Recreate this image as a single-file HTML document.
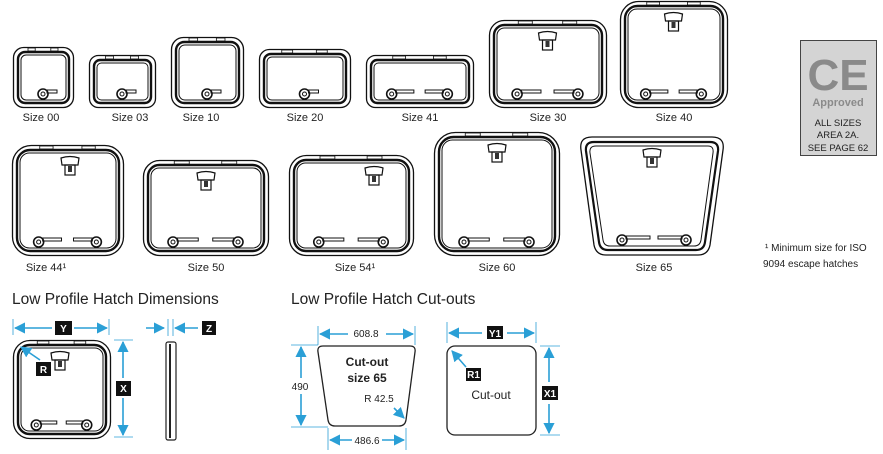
<!DOCTYPE html>
<html><head><meta charset="utf-8"><style>
html,body{margin:0;padding:0;background:#fff;width:883px;height:454px;overflow:hidden}
svg text{font-family:"Liberation Sans",sans-serif}
</style></head><body>
<svg id="s" width="883" height="454" viewBox="0 0 883 454" xmlns="http://www.w3.org/2000/svg">
<defs>
<marker id="a" viewBox="0 0 10 10" refX="9" refY="5" markerWidth="7" markerHeight="7" orient="auto-start-reverse"><path d="M0,0 L10,5 L0,10 z" fill="#2a9fd6"/></marker>
</defs>
<g id="h"></g>
<g font-size="11" fill="#222" text-anchor="middle">
<text x="41" y="121">Size 00</text><text x="130" y="121">Size 03</text><text x="201" y="121">Size 10</text><text x="305" y="121">Size 20</text><text x="420" y="121">Size 41</text><text x="548" y="121">Size 30</text><text x="674" y="121">Size 40</text>
<text x="46" y="271">Size 44¹</text><text x="206" y="271">Size 50</text><text x="355" y="271">Size 54¹</text><text x="497" y="271">Size 60</text><text x="654" y="271">Size 65</text>
</g>
<rect x="800.5" y="40.5" width="76" height="115" fill="#d4d4d4" stroke="#444"/>
<text x="838" y="90" font-size="44" font-weight="bold" fill="#8a8a8a" text-anchor="middle">CE</text>
<text x="838" y="106" font-size="11" font-weight="bold" fill="#8a8a8a" text-anchor="middle">Approved</text>
<g font-size="9.5" fill="#222" text-anchor="middle"><text x="838" y="126">ALL SIZES</text><text x="838" y="138">AREA 2A.</text><text x="838" y="151">SEE PAGE 62</text></g>
<g font-size="10" fill="#222"><text x="765" y="251">¹ Minimum size for ISO</text><text x="763" y="267">9094 escape hatches</text></g>
<g font-size="15.5" fill="#222"><text x="12" y="304">Low Profile Hatch Dimensions</text><text x="291" y="304">Low Profile Hatch Cut-outs</text></g>
<g stroke="#2a9fd6" stroke-width="1.6" fill="none">
<line x1="13" y1="319" x2="13" y2="335" stroke-width="0.8"/><line x1="109" y1="319" x2="109" y2="335" stroke-width="0.8"/>
<line x1="15" y1="328" x2="52" y2="328" marker-start="url(#a)"/><line x1="74" y1="328" x2="107" y2="328" marker-end="url(#a)"/>
<line x1="114" y1="340" x2="133" y2="340" stroke-width="0.8"/><line x1="114" y1="437" x2="133" y2="437" stroke-width="0.8"/>
<line x1="123" y1="342" x2="123" y2="378" marker-start="url(#a)"/><line x1="123" y1="398" x2="123" y2="435" marker-end="url(#a)"/>
<line x1="40" y1="360" x2="21" y2="347" marker-end="url(#a)"/>
<line x1="146" y1="328" x2="164" y2="328" marker-end="url(#a)"/><line x1="198" y1="328" x2="175" y2="328" marker-end="url(#a)"/>
<line x1="168" y1="319" x2="168" y2="336" stroke-width="0.8"/><line x1="173" y1="319" x2="173" y2="336" stroke-width="0.8"/>
<line x1="318" y1="326" x2="318" y2="345" stroke-width="0.8"/><line x1="415" y1="326" x2="415" y2="345" stroke-width="0.8"/>
<line x1="320" y1="334" x2="348" y2="334" marker-start="url(#a)"/><line x1="386" y1="334" x2="413" y2="334" marker-end="url(#a)"/>
<line x1="291" y1="345" x2="318" y2="345" stroke-width="0.8"/><line x1="291" y1="427" x2="328" y2="427" stroke-width="0.8"/>
<line x1="301" y1="347" x2="301" y2="378" marker-start="url(#a)"/><line x1="301" y1="394" x2="301" y2="425" marker-end="url(#a)"/>
<line x1="328" y1="428" x2="328" y2="450" stroke-width="0.8"/><line x1="406" y1="428" x2="406" y2="450" stroke-width="0.8"/>
<line x1="330" y1="440" x2="352" y2="440" marker-start="url(#a)"/><line x1="382" y1="440" x2="404" y2="440" marker-end="url(#a)"/>
<line x1="394" y1="408" x2="404" y2="418" marker-end="url(#a)"/>
<line x1="447" y1="322" x2="447" y2="343" stroke-width="0.8"/><line x1="536" y1="322" x2="536" y2="343" stroke-width="0.8"/>
<line x1="449" y1="333" x2="482" y2="333" marker-start="url(#a)"/><line x1="507" y1="333" x2="534" y2="333" marker-end="url(#a)"/>
<line x1="540" y1="346" x2="560" y2="346" stroke-width="0.8"/><line x1="540" y1="435" x2="560" y2="435" stroke-width="0.8"/>
<line x1="549" y1="348" x2="549" y2="382" marker-start="url(#a)"/><line x1="549" y1="404" x2="549" y2="433" marker-end="url(#a)"/>
<line x1="466" y1="367" x2="452" y2="351" marker-end="url(#a)"/>
</g>
<g fill="#111"><rect x="55" y="321" width="17" height="14"/><rect x="116" y="381" width="15" height="15"/><rect x="36" y="362" width="15" height="14"/><rect x="202" y="321" width="14" height="14"/><rect x="487" y="326" width="16" height="13"/><rect x="542" y="386" width="16" height="14"/><rect x="466" y="368" width="15" height="13"/></g>
<g fill="#fff" font-size="10" font-weight="bold" text-anchor="middle"><text x="63.5" y="332">Y</text><text x="123.5" y="392">X</text><text x="43.5" y="373">R</text><text x="209" y="332">Z</text><text x="495" y="337">Y1</text><text x="550" y="397">X1</text><text x="473.5" y="378">R1</text></g>
<rect x="166" y="342" width="10" height="98" rx="2" fill="none" stroke="#222" stroke-width="1.2"/><line x1="170" y1="344" x2="170" y2="438" stroke="#222" stroke-width="2"/>
<path d="M323,346 L410,346 Q416,346 415,352 L406,420 Q405,426 399,426 L335,426 Q329,426 328,420 L318,352 Q317,346 323,346 z" fill="none" stroke="#222" stroke-width="1.3"/>
<rect x="447" y="346" width="89" height="89" rx="8" fill="none" stroke="#222" stroke-width="1.3"/>
<g font-size="10" fill="#222" text-anchor="middle"><text x="366" y="337">608.8</text><text x="300" y="390">490</text><text x="367" y="444">486.6</text><text x="379" y="402">R 42.5</text></g>
<g font-size="12" font-weight="bold" fill="#222" text-anchor="middle"><text x="367" y="366">Cut-out</text><text x="367" y="382">size 65</text><text x="491" y="399" font-weight="normal">Cut-out</text></g>
</svg>
<script>
var g=document.getElementById('h'),N='http://www.w3.org/2000/svg';
function el(t,a){var e=document.createElementNS(N,t);for(var k in a)e.setAttribute(k,a[k]);g.appendChild(e);return e;}
function hatch(x,y,w,h,o){
 var r=Math.min(w,h)*0.17;
 el('rect',{x:x+.5,y:y+.5,width:w,height:h,rx:r,fill:'none',stroke:'#111','stroke-width':1.3});
 el('rect',{x:x+5,y:y+5,width:w-9,height:h-9,rx:r*0.7,fill:'none',stroke:'#111','stroke-width':2.4});
 el('rect',{x:x+8,y:y+8,width:w-15,height:h-15,rx:r*0.5,fill:'none',stroke:'#111','stroke-width':1});
 el('rect',{x:x+w*0.25,y:y+1,width:w*0.12,height:3,fill:'none',stroke:'#111','stroke-width':.8});
 el('rect',{x:x+w*0.63,y:y+1,width:w*0.12,height:3,fill:'none',stroke:'#111','stroke-width':.8});
 var by=y+h-13;
 function handle(cx,dir,len){
  el('circle',{cx:cx,cy:by,r:5,fill:'none',stroke:'#111','stroke-width':1.6});
  el('circle',{cx:cx,cy:by,r:2,fill:'none',stroke:'#111','stroke-width':1});
  el('rect',{x:dir>0?cx+4:cx-4-len,y:by-4,width:len,height:3,fill:'none',stroke:'#111','stroke-width':1});
 }
 if(o.h==1)handle(x+w/2,1,10);
 if(o.h==2){handle(x+w*0.24,1,w*0.17);handle(x+w*0.76,-1,w*0.17);}
 if(o.l){var lx=x+(o.lx||w/2);el('path',{d:'M'+(lx-8)+','+(y+20)+' L'+(lx-9)+','+(y+13)+' Q'+lx+','+(y+10)+' '+(lx+9)+','+(y+13)+' L'+(lx+8)+','+(y+20)+' z',fill:'#fff',stroke:'#111','stroke-width':1.2});
  el('rect',{x:lx-5,y:y+20,width:10,height:10,fill:'none',stroke:'#111','stroke-width':1.2});
  el('rect',{x:lx-2,y:y+21,width:4,height:6,fill:'#333'});}
}
hatch(13,47,60,60,{h:1});hatch(89,55,66,52,{h:1});hatch(171,37,72,70,{h:1});
hatch(259,49,91,58,{h:1});hatch(366,55,107,52,{h:2});
hatch(489,20,117,87,{h:2,l:1});hatch(620,1,107,106,{h:2,l:1});
hatch(12,145,111,110,{h:2,l:1,lx:58});hatch(143,160,125,95,{h:2,l:1,lx:63});
hatch(289,155,124,100,{h:2,l:1,lx:85});hatch(434,132,125,123,{h:2,l:1,lx:63});
hatch(13,340,97,98,{h:2,l:1,lx:47});
var p=function(d,sw){el('path',{d:d,fill:'none',stroke:'#111','stroke-width':sw});};
p('M592,137 L712,137 Q725,137 723,150 L710,245 Q708,255 698,255 L606,255 Q596,255 594,245 L581,150 Q579,137 592,137 z',1.3);
p('M594,142 L710,142 Q719,142 718,151 L705,242 Q704,250 696,250 L608,250 Q600,250 599,242 L586,151 Q585,142 594,142 z',2.2);
p('M596,146 L708,146 Q714,146 713,153 L701,240 Q700,246 694,246 L610,246 Q604,246 603,240 L590,153 Q589,146 596,146 z',1);
(function(){var by=240;
 [[622,1],[686,-1]].forEach(function(a){var cx=a[0];el('circle',{cx:cx,cy:by,r:5,fill:'none',stroke:'#111','stroke-width':1.6});el('circle',{cx:cx,cy:by,r:2,fill:'none',stroke:'#111','stroke-width':1});el('rect',{x:a[1]>0?cx+4:cx-28,y:by-4,width:24,height:3,fill:'none',stroke:'#111','stroke-width':1});});
 el('path',{d:'M644,157 L643,150 Q652,147 661,150 L660,157 z',fill:'#fff',stroke:'#111','stroke-width':1.2});el('rect',{x:647,y:157,width:10,height:10,fill:'none',stroke:'#111','stroke-width':1.2});el('rect',{x:650,y:158,width:4,height:6,fill:'#333'});})();
</script>
</body></html>
